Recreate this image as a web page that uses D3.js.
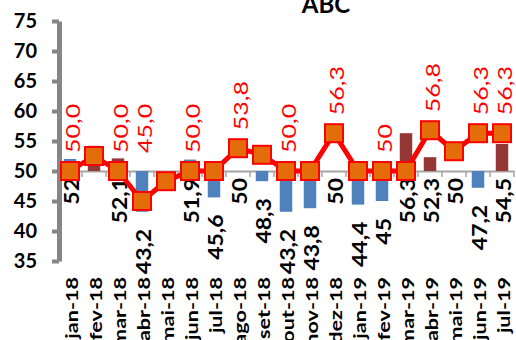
<!DOCTYPE html>
<html>
<head>
<meta charset="utf-8">
<script src="https://cdn.jsdelivr.net/npm/d3@7/dist/d3.min.js"></script>
<style>
  body { margin: 0; background: #fff; }
  svg { display: block; font-family: Lato, "Open Sans", sans-serif; }
</style>
</head>
<body>
<svg id="chart" width="516" height="340"></svg>
<script>
// Monthly series: bars measured from the 50 baseline, line with square markers.
const title = "ABC";
const months = ["jan-18","fev-18","mar-18","abr-18","mai-18","jun-18","jul-18","ago-18","set-18",
                "out-18","nov-18","dez-18","jan-19","fev-19","mar-19","abr-19","mai-19","jun-19","jul-19"];
const barValues = [52, 54.2, 52.1, 43.2, null, 51.9, 45.6, 50, 48.3, 43.2, 43.8, 50, 44.4, 45, 56.3, 52.3, 50, 47.2, 54.5];
const barSeries = ["azul","vermelho","vermelho","azul",null,"azul","azul","azul","azul","azul","azul","azul",
                   "azul","azul","vermelho","vermelho","azul","azul","vermelho"];
const barLabelShown = [true,false,true,true,false,true,true,true,true,true,true,true,true,true,true,true,true,true,true];
const lineValues = [50, 52.5, 50, 45, 48.3, 50, 50, 53.8, 52.7, 50, 50, 56.3, 50, 50, 50, 56.8, 53.3, 56.3, 56.3];
const lineLabels = ["50,0", null, "50,0", "45,0", null, "50,0", null, "53,8", null, "50,0", null, "56,3",
                    null, "50", null, "56,8", null, "56,3", "56,3"];
const yTicks = [35, 40, 45, 50, 55, 60, 65, 70, 75];
const baseline = 50;

const svg = d3.select("#chart");

const x = d3.scaleBand().domain(months).range([58, 514]).padding(0);
const y = d3.scaleLinear().domain([35, 75]).range([261, 21]);
const colour = d3.scaleOrdinal().domain(["azul", "vermelho"]).range(["#4F81BD", "#953735"]);
const cx = m => x(m) + x.bandwidth() / 2;
const fmt = v => String(v).replace(".", ",");

// rotated text helper: reads bottom-to-top, stretched along its length
function vtext(g, px, py, anchor, k) {
  return g.append("text")
    .attr("transform", `translate(${px},${py}) rotate(-90) scale(${k},1)`)
    .attr("text-anchor", anchor)
    .attr("dy", "0.35em");
}

// title
svg.append("text")
  .attr("x", 326).attr("y", 13)
  .attr("text-anchor", "middle")
  .attr("font-size", 24).attr("font-weight", 700)
  .attr("fill", "#000")
  .text(title);

// category axis along the baseline
const xAxis = svg.append("g")
  .attr("transform", `translate(0,${y(baseline)})`)
  .call(d3.axisBottom(x).tickSize(0).tickFormat(""));
xAxis.select(".domain").attr("stroke", "#A6A6A6").attr("stroke-width", 2);
svg.append("g").selectAll("line")
  .data(months.slice(1).concat(["__end"]))
  .join("line")
  .attr("x1", d => d === "__end" ? x.range()[1] : x(d))
  .attr("x2", d => d === "__end" ? x.range()[1] : x(d))
  .attr("y1", y(baseline)).attr("y2", y(baseline) + 6)
  .attr("stroke", "#A6A6A6").attr("stroke-width", 1.5);

// bars from the baseline
const barData = months.map((m, i) => ({ m, v: barValues[i], s: barSeries[i], show: barLabelShown[i] }));
svg.append("g").selectAll("rect")
  .data(barData.filter(d => d.v != null && d.v !== baseline))
  .join("rect")
  .attr("x", d => cx(d.m) - x.bandwidth() * 0.26)
  .attr("width", x.bandwidth() * 0.52)
  .attr("y", d => Math.min(y(d.v), y(baseline)))
  .attr("height", d => Math.abs(y(d.v) - y(baseline)))
  .attr("fill", d => colour(d.s));

// value axis
const yAxis = svg.append("g")
  .attr("transform", "translate(59,0)")
  .call(d3.axisLeft(y).tickValues(yTicks).tickSize(7).tickSizeOuter(0).tickPadding(15));
yAxis.select(".domain").attr("stroke", "#868686").attr("stroke-width", 5);
yAxis.selectAll(".tick line").attr("stroke", "#868686").attr("stroke-width", 4);
yAxis.selectAll(".tick text")
  .attr("font-family", "Lato, sans-serif")
  .attr("font-size", 20).attr("font-weight", 700).attr("fill", "#000")
  .attr("transform", "scale(1,1.08)")
  .attr("dy", "0.3em");

// bar value labels
const barLabels = svg.append("g").attr("font-size", 20).attr("font-weight", 700).attr("fill", "#000");
barData.filter(d => d.v != null && d.show).forEach(d => {
  const py = d.v >= baseline ? y(baseline) + 7 : y(d.v) + 17;
  vtext(barLabels, cx(d.m) + 2, py, "end", 1.15).text(fmt(d.v));
});

// line with square markers
const pts = months.map((m, i) => ({ m, v: lineValues[i], lab: lineLabels[i] }));
svg.append("path")
  .datum(pts)
  .attr("fill", "none")
  .attr("stroke", "#FF0000")
  .attr("stroke-width", 5)
  .attr("stroke-linejoin", "round")
  .attr("d", d3.line().x(d => cx(d.m)).y(d => y(d.v)));

const markerSize = 18;
svg.append("g").selectAll("rect")
  .data(pts)
  .join("rect")
  .attr("x", d => cx(d.m) - markerSize / 2)
  .attr("y", d => y(d.v) - markerSize / 2)
  .attr("width", markerSize).attr("height", markerSize)
  .attr("fill", "#E46C0A")
  .attr("stroke", "#FF0000").attr("stroke-width", 2);

// line value labels
const lineLabelG = svg.append("g").attr("font-size", 20).attr("fill", "#FF0000");
pts.filter(d => d.lab).forEach(d => {
  vtext(lineLabelG, cx(d.m) + 3, y(Math.max(d.v, baseline)) - 18, "start", 1.25).text(d.lab);
});

// category labels
const catG = svg.append("g").attr("font-size", 17).attr("font-weight", 700).attr("fill", "#000");
months.forEach(m => {
  vtext(catG, cx(m) + 2, 277, "end", 1.27).text(m);
});
</script>
</body>
</html>
